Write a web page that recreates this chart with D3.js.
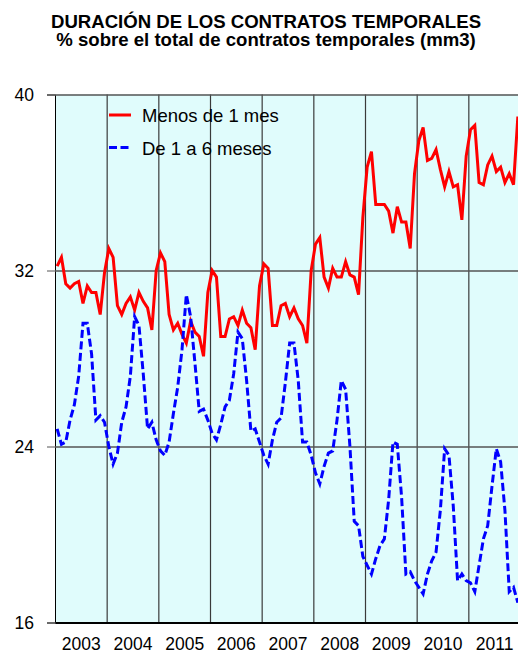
<!DOCTYPE html>
<html>
<head>
<meta charset="utf-8">
<script src="https://cdn.jsdelivr.net/npm/d3@7"></script>
<style>
  body { margin: 0; background: #fff; }
  text { font-family: Arial, "Liberation Sans", sans-serif; }
</style>
</head>
<body>
<div id="myGraph"></div>
<script>
// datos mensuales 2003-2011 (mm3)
var years = ["2003", "2004", "2005", "2006", "2007", "2008", "2009", "2010", "2011"];
var yTicks = [16, 24, 32, 40];

var menos1mes = [
  32.2, 32.6, 31.4, 31.2, 31.4, 31.5, 30.5, 31.3, 31.0, 31.0, 30.0, 31.9,
  33.0, 32.6, 30.4, 30.0, 30.5, 30.8, 30.2, 31.0, 30.6, 30.3, 29.3, 32.0,
  32.8, 32.4, 30.0, 29.3, 29.6, 29.1, 28.7, 29.7, 29.2, 29.0, 28.1, 31.0,
  32.0, 31.7, 29.0, 29.0, 29.8, 29.9, 29.5, 30.2, 29.6, 29.4, 28.4, 31.3,
  32.3, 32.1, 29.5, 29.5, 30.4, 30.5, 29.9, 30.3, 29.8, 29.5, 28.7, 32.0,
  33.2, 33.5, 31.7, 31.2, 32.1, 31.7, 31.7, 32.4, 31.8, 31.7, 30.9, 34.4,
  36.7, 37.4, 35.0, 35.0, 35.0, 34.7, 33.7, 34.9, 34.2, 34.2, 33.0, 36.4,
  37.9, 38.5, 37.0, 37.1, 37.5, 36.6, 35.8, 36.5, 35.8, 35.9, 34.3, 37.2,
  38.4, 38.6, 36.0, 35.9, 36.8, 37.2, 36.5, 36.7, 36.0, 36.4, 35.9, 39.0
];

var de1a6meses = [
  24.8, 24.1, 24.2, 25.2, 25.9, 27.2, 29.6, 29.6, 28.2, 25.2, 25.4, 25.1,
  24.0, 23.2, 23.7, 25.1, 25.8, 27.2, 29.9, 29.5, 27.3, 24.8, 25.1, 24.3,
  23.8, 23.6, 24.2, 25.5, 26.7, 28.4, 30.9, 29.9, 27.8, 25.6, 25.7, 25.2,
  24.6, 24.3, 25.0, 25.8, 26.1, 27.3, 29.2, 28.9, 27.0, 24.7, 24.8, 24.2,
  23.6, 23.2, 24.3, 25.1, 25.3, 26.9, 28.7, 28.7, 27.0, 24.2, 24.2, 23.6,
  22.8, 22.3, 23.1, 23.7, 23.8, 25.2, 27.0, 26.6, 24.0, 20.6, 20.4, 19.0,
  18.6, 18.2, 18.9, 19.5, 19.8, 21.6, 24.2, 24.1, 21.7, 18.2, 18.3, 17.9,
  17.6, 17.3, 18.2, 18.8, 19.2, 21.1, 23.9, 23.6, 21.3, 17.9, 18.2, 17.9,
  17.8, 17.4, 18.6, 19.8, 20.4, 22.2, 23.9, 23.3, 21.1, 17.4, 17.6, 16.9
];

var series = [
  { name: "Menos de 1 mes", values: menos1mes, color: "#ff0000", dash: null },
  { name: "De 1 a 6 meses", values: de1a6meses, color: "#0000ff", dash: "8,3.5" }
];

var width = 518, height = 657;
var plotLeft = 55, plotRight = 520, plotTop = 94.5, plotBottom = 622.5;
var nMonths = years.length * 12;

var x = d3.scaleLinear().domain([0, nMonths]).range([plotLeft, plotRight]);
var y = d3.scaleLinear().domain([16, 40]).range([plotBottom, plotTop]);

var svg = d3.select("#myGraph").append("svg")
    .attr("width", width)
    .attr("height", height);

// titulo
svg.append("text")
    .attr("x", 266).attr("y", 27.5)
    .attr("text-anchor", "middle")
    .style("font-size", "18.6px").style("font-weight", "bold")
    .text("DURACIÓN DE LOS CONTRATOS TEMPORALES");
svg.append("text")
    .attr("x", 266).attr("y", 45.5)
    .attr("text-anchor", "middle")
    .style("font-size", "18.6px").style("font-weight", "bold")
    .text("% sobre el total de contratos temporales (mm3)");

// fondo del area
svg.append("rect")
    .attr("x", plotLeft).attr("y", plotTop)
    .attr("width", plotRight - plotLeft).attr("height", plotBottom - plotTop)
    .attr("fill", "#e0fcfc");

// lineas verticales de cada año
var yearStarts = d3.range(1, years.length).map(function(k){ return k * 12; });
svg.append("g")
    .attr("transform", "translate(0," + plotBottom + ")")
    .call(d3.axisBottom(x).tickValues(yearStarts).tickSize(-(plotBottom - plotTop)).tickFormat(""))
    .call(function(g){
      g.select(".domain").remove();
      g.selectAll(".tick line").attr("stroke", "#3a3a3a").attr("stroke-width", 1.2);
    });

// eje y + rejilla
svg.append("g")
    .attr("transform", "translate(" + plotLeft + ",0)")
    .call(d3.axisLeft(y).tickValues(yTicks).tickSize(8).tickPadding(13))
    .call(function(g){
      g.select(".domain").attr("stroke", "#000");
      g.selectAll(".tick line").attr("stroke", "#555");
      g.selectAll(".tick text").style("font-size", "17.5px").attr("fill", "#000");
    });
svg.append("g")
    .attr("transform", "translate(" + plotLeft + ",0)")
    .call(d3.axisRight(y).tickValues(yTicks).tickSize(plotRight - plotLeft).tickFormat(""))
    .call(function(g){
      g.select(".domain").remove();
      g.selectAll(".tick line").attr("stroke", "#555").attr("stroke-width", 1.3);
    });

// eje x con etiquetas de años centradas
var yearMids = years.map(function(d, k){ return k * 12 + 6; });
svg.append("g")
    .attr("transform", "translate(0," + plotBottom + ")")
    .call(d3.axisBottom(x).tickValues(yearMids).tickSize(0).tickPadding(15)
      .tickFormat(function(d, i){ return years[i]; }))
    .call(function(g){
      g.select(".domain").attr("stroke", "#000").attr("stroke-width", 2);
      g.selectAll(".tick text").style("font-size", "17.5px").attr("fill", "#000");
    });

// lineas de datos
var line = d3.line()
    .x(function(d, i){ return x(i + 0.5); })
    .y(function(d){ return y(d); });

svg.append("clipPath").attr("id", "plotClip")
  .append("rect")
    .attr("x", plotLeft).attr("y", plotTop - 2)
    .attr("width", plotRight - plotLeft).attr("height", plotBottom - plotTop + 4);

svg.selectAll(".serie")
    .data(series)
    .enter().append("path")
    .attr("class", "serie")
    .attr("clip-path", "url(#plotClip)")
    .attr("d", function(d){ return line(d.values); })
    .attr("fill", "none")
    .attr("stroke", function(d){ return d.color; })
    .attr("stroke-width", 3)
    .attr("stroke-linejoin", "miter")
    .attr("stroke-dasharray", function(d){ return d.dash; });

// leyenda
var leg = svg.selectAll(".leg")
    .data(series)
    .enter().append("g")
    .attr("class", "leg")
    .attr("transform", function(d, i){ return "translate(109," + (115 + i * 32.5) + ")"; });
leg.append("line")
    .attr("x1", 0).attr("x2", 22)
    .attr("stroke", function(d){ return d.color; })
    .attr("stroke-width", 3)
    .attr("stroke-dasharray", function(d){ return d.dash; });
leg.append("text")
    .attr("x", 33).attr("y", 7)
    .style("font-size", "18.5px")
    .text(function(d){ return d.name; });
</script>
</body>
</html>
